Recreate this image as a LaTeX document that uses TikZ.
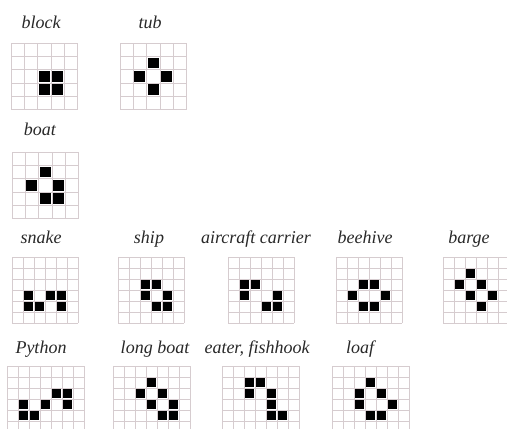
\documentclass[tikz,border=0pt]{standalone}
\usepackage{fontspec}
\setmainfont{Liberation Serif}
\usepackage{tikz}
\usetikzlibrary{positioning}
\definecolor{gridpink}{RGB}{214, 204, 207}
\definecolor{labelgray}{RGB}{40, 40, 40}

% one board: origin x, origin y, columns, rows, cell size, live cells col/row
\newcommand{\lifeboard}[6]{%
    \begin{scope}[shift={(#1,#2)}]
        \foreach \i in {0,...,#3} \draw[gridline] (\i*#5,0) -- (\i*#5,#4*#5);
        \foreach \j in {0,...,#4} \draw[gridline] (0,\j*#5) -- (#3*#5,\j*#5);
        \foreach \c/\r in {#6} \fill[livecell] (\c*#5+0.09*#5,\r*#5+0.09*#5) rectangle ++(0.82*#5,0.82*#5);
    \end{scope}}

\begin{document}
\begin{tikzpicture}[
        x=1pt, y=-1pt,
        gridline/.style={draw=gridpink, line width=0.8pt},
        livecell/.style={fill=black},
        boardlabel/.style={anchor=base, inner sep=0pt, text=labelgray, font=\fontsize{18}{21}\selectfont\itshape}
    ]
        \useasboundingbox (0,0) rectangle (507,429);

        % Row 1
        \node (lblock) [boardlabel] at (41,28) {block};
        \node (ltub) [boardlabel] at (150,28) {tub};
        \lifeboard{11}{43}{5}{5}{13.3}{2/2,3/2,2/3,3/3}
        \lifeboard{120}{43}{5}{5}{13.3}{2/1,1/2,3/2,2/3}

        % Row 2
        \node (lboat) [boardlabel] at (40,135) {boat};
        \lifeboard{12}{152}{5}{5}{13.3}{2/1,1/2,3/2,2/3,3/3}

        % Row 3
        \node (lsnake) [boardlabel] at (41,243) {snake};
        \node (lship) [boardlabel] at (149,243) {ship};
        \node (lcarrier) [boardlabel] at (256,243) {aircraft carrier};
        \node (lbeehive) [boardlabel] at (365,243) {beehive};
        \node (lbarge) [boardlabel] at (469,243) {barge};
        \lifeboard{12}{257}{6}{6}{11}{1/3,3/3,4/3,1/4,2/4,4/4}
        \lifeboard{118}{257}{6}{6}{11}{2/2,3/2,2/3,4/3,3/4,4/4}
        \lifeboard{228}{257}{6}{6}{11}{1/2,2/2,1/3,4/3,3/4,4/4}
        \lifeboard{336}{257}{6}{6}{11}{2/2,3/2,1/3,4/3,2/4,3/4}
        \lifeboard{443}{257}{6}{6}{11}{2/1,1/2,3/2,2/3,4/3,3/4}

        % Row 4
        \node (lpython) [boardlabel] at (41,353) {Python};
        \node (llongboat) [boardlabel] at (155,353) {long boat};
        \node (leater) [boardlabel] at (257,353) {eater, fishhook};
        \node (lloaf) [boardlabel] at (360,353) {loaf};
        \lifeboard{7}{366}{7}{7}{11}{4/2,5/2,1/3,3/3,5/3,1/4,2/4}
        \lifeboard{113}{366}{7}{7}{11}{3/1,2/2,4/2,3/3,5/3,4/4,5/4}
        \lifeboard{222}{366}{7}{7}{11}{2/1,3/1,2/2,4/2,4/3,4/4,5/4}
        \lifeboard{332}{366}{7}{7}{11}{3/1,2/2,4/2,2/3,5/3,3/4,4/4}
    \end{tikzpicture}
\end{document}
